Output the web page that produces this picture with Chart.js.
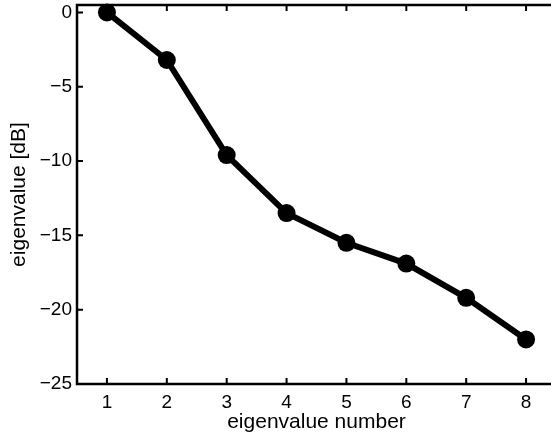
<!DOCTYPE html>
<html>
<head>
<meta charset="utf-8">
<script src="https://cdn.jsdelivr.net/npm/chart.js@4.4.0/dist/chart.umd.min.js"></script>
<style>
  html, body { margin: 0; padding: 0; background: #fff; overflow: hidden; }
</style>
</head>
<body>
<canvas id="chart" width="562" height="437"></canvas>
<script>
const eigenNumbers = [1, 2, 3, 4, 5, 6, 7, 8];
const eigenValuesDb = [0, -3.2, -9.6, -13.5, -15.5, -16.9, -19.2, -22.0];
const xTicks = [1, 2, 3, 4, 5, 6, 7, 8];
const yTicks = [-25, -20, -15, -10, -5, 0];

const family = "'Liberation Sans', Arial, Helvetica, sans-serif";
const tickFont = { family, size: 19 };
const titleFont = { family, size: 21 };

// box round the plot with ticks pointing inwards, like the original
const frame = {
    id: "frame",
    afterDraw(chart) {
        const { ctx, chartArea: a, scales } = chart;
        ctx.save();
        ctx.strokeStyle = "#000";
        ctx.lineWidth = 2.5;
        ctx.strokeRect(a.left, a.top, a.right - a.left, a.bottom - a.top);
        ctx.lineWidth = 2;
        ctx.beginPath();
        xTicks.forEach((v) => {
            const x = scales.x.getPixelForValue(v);
            ctx.moveTo(x, a.bottom); ctx.lineTo(x, a.bottom - 6);
            ctx.moveTo(x, a.top); ctx.lineTo(x, a.top + 6);
        });
        yTicks.forEach((v) => {
            const y = scales.y.getPixelForValue(v);
            ctx.moveTo(a.left, y); ctx.lineTo(a.left + 6, y);
        });
        ctx.stroke();
        ctx.restore();
    },
};

const noPad = (s) => { s.paddingTop = 0; s.paddingBottom = 0; s.paddingLeft = 0; s.paddingRight = 0; };

new Chart(document.getElementById("chart"), {
    type: "scatter",
    data: {
        datasets: [{
            data: eigenNumbers.map((n, i) => ({ x: n, y: eigenValuesDb[i] })),
            showLine: true,
            borderColor: "#000",
            backgroundColor: "#000",
            borderWidth: 6,
            pointRadius: 9,
            pointHoverRadius: 9,
            pointBorderWidth: 0,
            clip: false,
        }],
    },
    options: {
        responsive: false,
        animation: false,
        events: [],
        layout: { autoPadding: false, padding: { top: 5, right: 6, left: 0, bottom: 0 } },
        plugins: { legend: { display: false }, tooltip: { enabled: false } },
        scales: {
            x: {
                type: "linear",
                min: 0.5,
                max: 8.5,
                afterBuildTicks: (s) => { s.ticks = xTicks.map((v) => ({ value: v })); },
                afterFit: (s) => { s.height = 53; noPad(s); },
                grid: { display: false, drawTicks: false },
                border: { display: false },
                ticks: { color: "#000", font: tickFont, padding: 7, maxRotation: 0 },
                title: { display: true, text: "eigenvalue number", color: "#000", font: titleFont, padding: { top: 0, bottom: 2 } },
            },
            y: {
                type: "linear",
                min: -25,
                max: 0.5,
                afterBuildTicks: (s) => { s.ticks = yTicks.map((v) => ({ value: v })); },
                afterFit: (s) => { s.width = 77; noPad(s); },
                grid: { display: false, drawTicks: false },
                border: { display: false },
                ticks: {
                    color: "#000", font: tickFont, padding: 5,
                    callback: (v) => String(v).replace("-", "\u2212"),
                },
                title: { display: true, text: "eigenvalue [dB]", color: "#000", font: titleFont, padding: { top: 7, bottom: 0 } },
            },
        },
    },
    plugins: [frame],
});
</script>
</body>
</html>
